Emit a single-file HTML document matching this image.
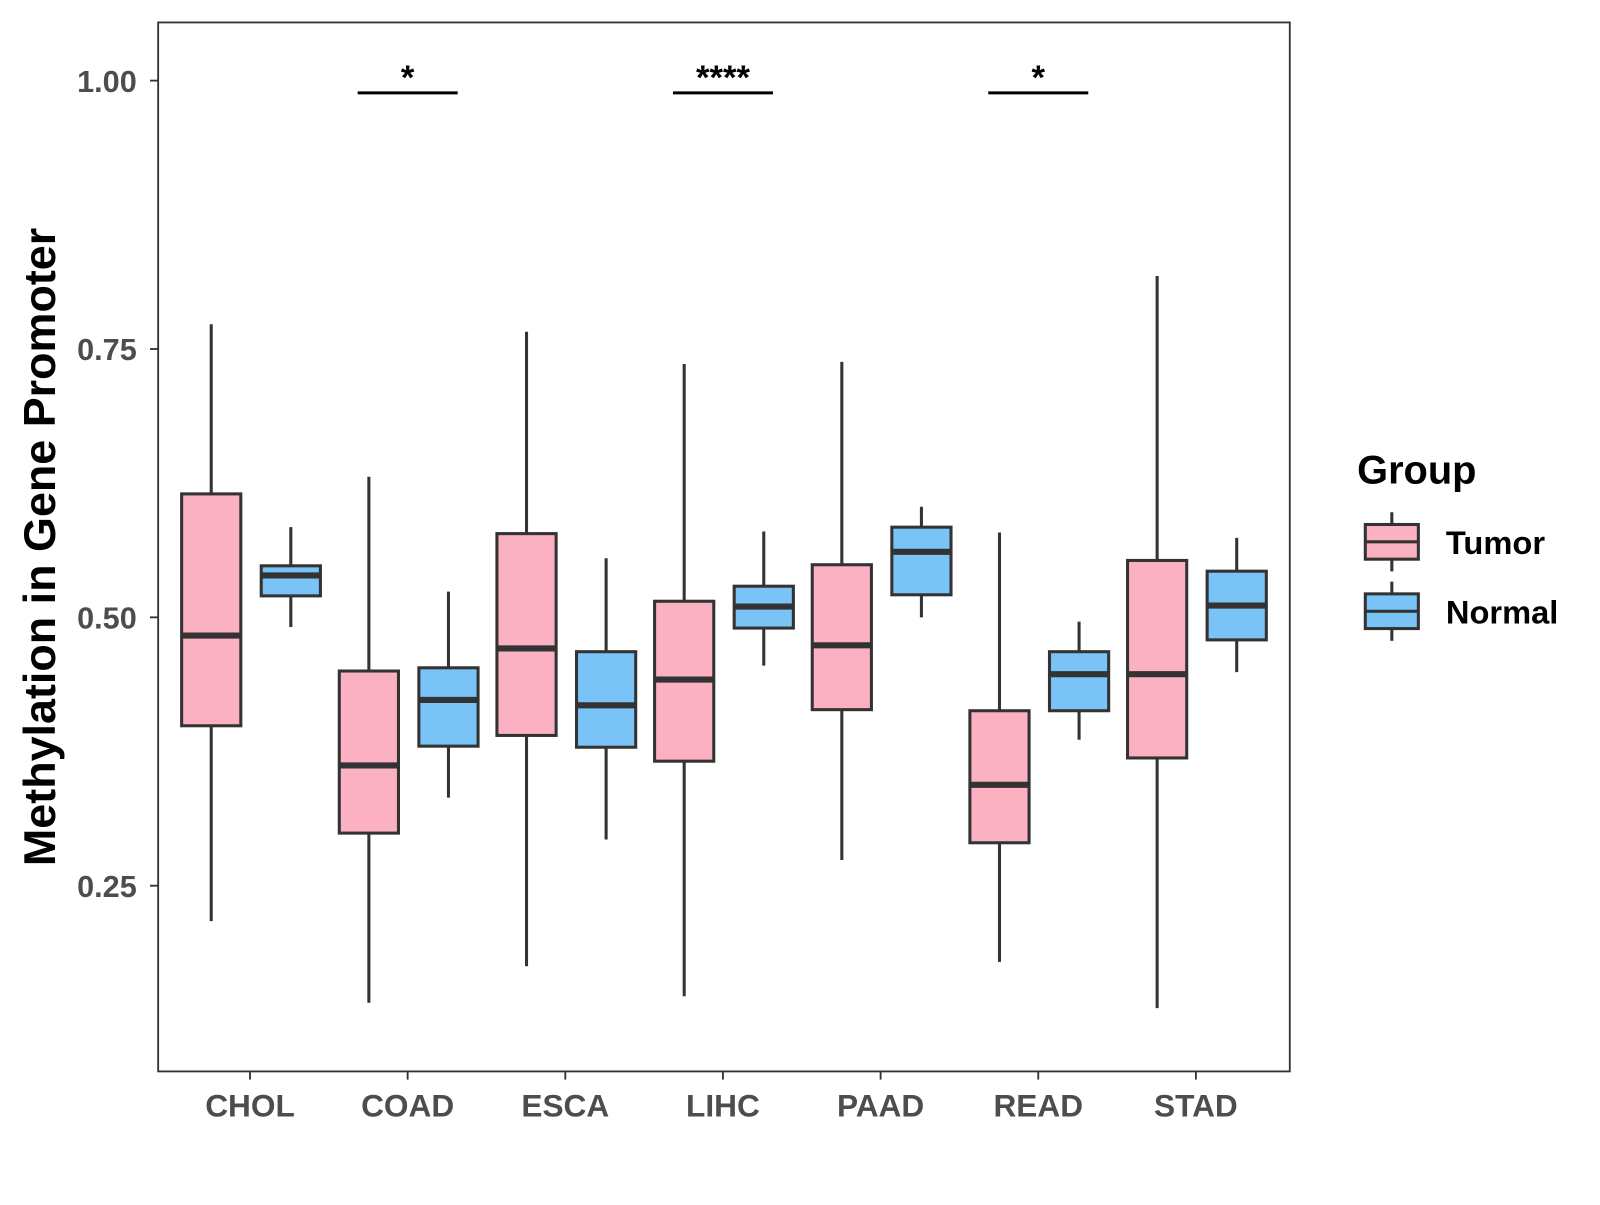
<!DOCTYPE html>
<html><head><meta charset="utf-8"><style>
body{margin:0;background:#fff;}
svg text{font-family:"Liberation Sans",Arial,sans-serif;font-weight:bold;}
</style></head><body>
<svg id="chart" width="1600" height="1200" xmlns="http://www.w3.org/2000/svg">
<rect x="0" y="0" width="1600" height="1200" fill="#fff"/>
<g transform="scale(1.0204)">
<rect x="155" y="22" width="1109" height="1028" fill="none" stroke="#333" stroke-width="1.8"/>
<g id="marks"></g>
<text transform="translate(54,536) rotate(-90)" text-anchor="middle" font-size="44" fill="#000">Methylation in Gene Promoter</text>
<g>
<text x="1330" y="474" font-size="39" fill="#000">Group</text>
<g>
<line x1="1364" y1="502" x2="1364" y2="560" stroke="#333" stroke-width="3"/>
<rect x="1338" y="514" width="52" height="34" fill="#FBB1C2" stroke="#333" stroke-width="3"/>
<line x1="1338" y1="531" x2="1390" y2="531" stroke="#333" stroke-width="3"/>
<text x="1417" y="543" font-size="32" fill="#000">Tumor</text></g>
<g>
<line x1="1364" y1="570" x2="1364" y2="628" stroke="#333" stroke-width="3"/>
<rect x="1338" y="582" width="52" height="34" fill="#7AC3F7" stroke="#333" stroke-width="3"/>
<line x1="1338" y1="599" x2="1390" y2="599" stroke="#333" stroke-width="3"/>
<text x="1417" y="611" font-size="32" fill="#000">Normal</text></g>
</g>
</g>
</svg>
<script>
const categories=["CHOL","COAD","ESCA","LIHC","PAAD","READ","STAD"];
const tumorLow=[0.217,0.141,0.175,0.147,0.274,0.179,0.136];
const tumorQ1=[0.399,0.299,0.390,0.366,0.414,0.290,0.369];
const tumorMed=[0.483,0.362,0.471,0.442,0.474,0.344,0.447];
const tumorQ3=[0.615,0.450,0.578,0.515,0.549,0.413,0.553];
const tumorHigh=[0.773,0.631,0.766,0.736,0.738,0.579,0.818];
const normalLow=[0.491,0.332,0.293,0.455,0.500,0.386,0.449];
const normalQ1=[0.520,0.380,0.379,0.490,0.521,0.413,0.479];
const normalMed=[0.539,0.423,0.418,0.510,0.561,0.447,0.511];
const normalQ3=[0.548,0.453,0.468,0.529,0.584,0.468,0.543];
const normalHigh=[0.584,0.524,0.555,0.580,0.603,0.496,0.574];
const yTicks=[0.25,0.50,0.75,1.00];
const yTickLabels=["0.25","0.50","0.75","1.00"];
const sigCategories=["COAD","LIHC","READ"];
const sigLabels=["*","****","*"];

const NS="http://www.w3.org/2000/svg";
const g=document.getElementById('marks');
function y(v){return 605-(v-0.5)*1052;}
function x(i){return 245+i*154.5;}
function el(tag,attrs,parent){const e=document.createElementNS(NS,tag);for(const k in attrs)e.setAttribute(k,attrs[k]);(parent||g).appendChild(e);return e;}

yTicks.forEach((t,i)=>{
  const tk=el('line',{x1:147,x2:155,y1:y(t),y2:y(t),stroke:'#333','stroke-width':1.8});
  
  
  const tx=el('text',{x:134,y:y(t)+11,'text-anchor':'end','font-size':30,fill:'#4d4d4d'});
  tx.textContent=yTickLabels[i];
  
  
});
categories.forEach((c,i)=>{
  const tk=el('line',{x1:x(i),x2:x(i),y1:1050,y2:1058,stroke:'#333','stroke-width':1.8});
  
  
  const tx=el('text',{x:x(i),y:1094,'text-anchor':'middle','font-size':31,fill:'#4d4d4d'});
  tx.textContent=c;
  
  
});
function box(cx,lo,q1,md,q3,hi,fill,name){
  const gg=el('g',{});
  
  
  el('line',{x1:cx,x2:cx,y1:y(hi),y2:y(lo),stroke:'#333','stroke-width':3},gg);
  el('rect',{x:cx-29,y:y(q3),width:58,height:y(q1)-y(q3),fill:fill,stroke:'#333','stroke-width':3},gg);
  el('line',{x1:cx-29,x2:cx+29,y1:y(md),y2:y(md),stroke:'#333','stroke-width':6},gg);
}
categories.forEach((c,i)=>{
  box(x(i)-38,tumorLow[i],tumorQ1[i],tumorMed[i],tumorQ3[i],tumorHigh[i],'#FBB1C2','box-tumor-'+c.toLowerCase());
  box(x(i)+40,normalLow[i],normalQ1[i],normalMed[i],normalQ3[i],normalHigh[i],'#7AC3F7','box-normal-'+c.toLowerCase());
});
sigCategories.forEach((c,k)=>{
  const i=categories.indexOf(c);
  const ln=el('line',{x1:x(i)-49,x2:x(i)+49,y1:91,y2:91,stroke:'#000','stroke-width':3});
  
  
  const tx=el('text',{x:x(i),y:87,'text-anchor':'middle','font-size':34,fill:'#000'});
  tx.textContent=sigLabels[k];
  
  
});
</script>
</body></html>
